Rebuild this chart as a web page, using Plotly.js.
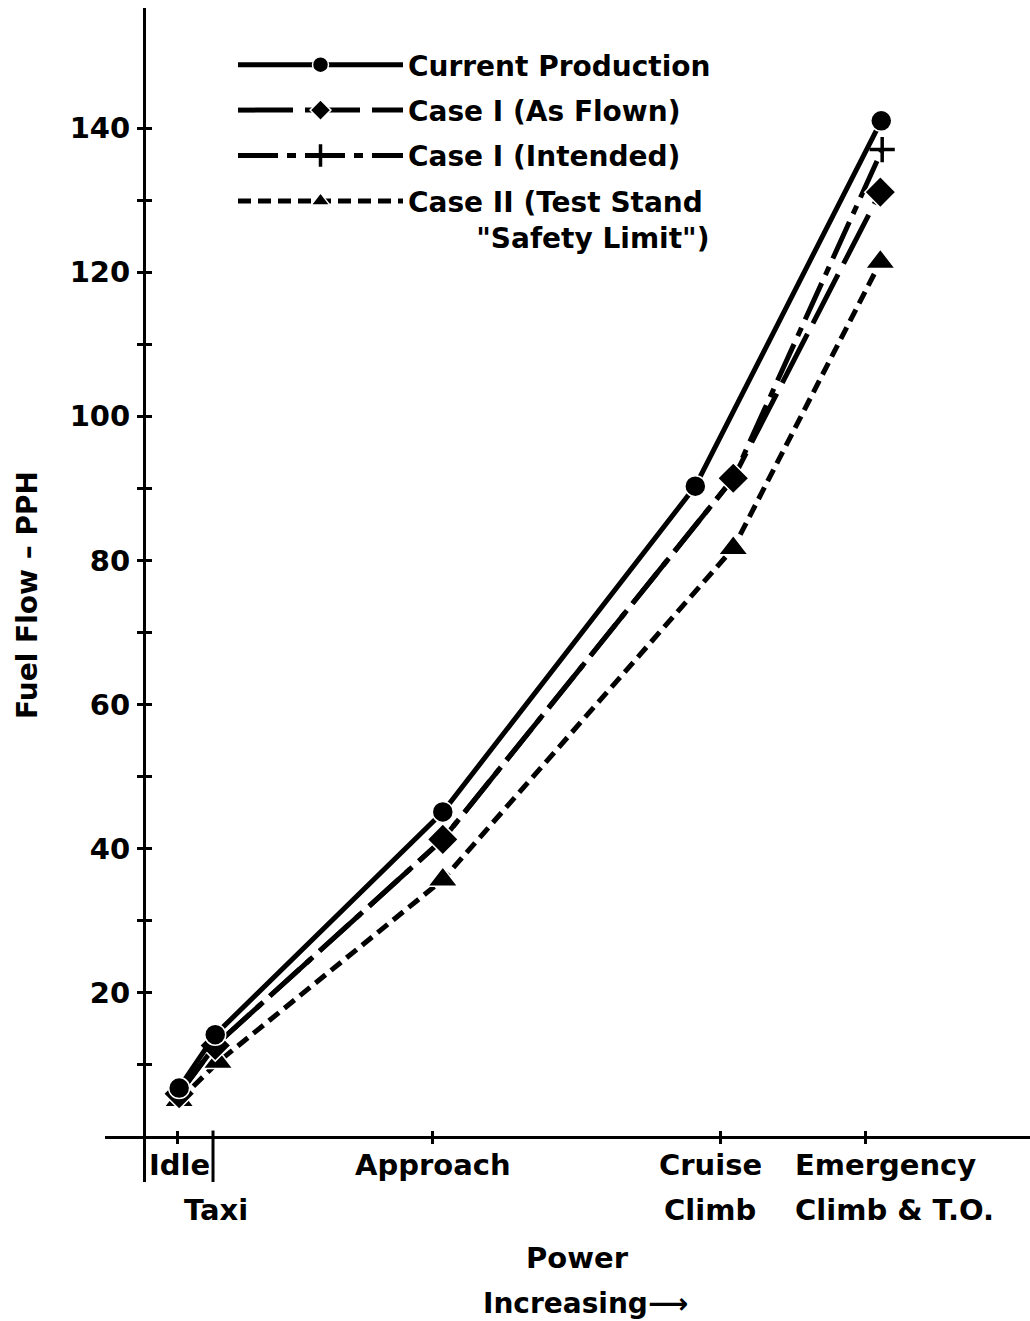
<!DOCTYPE html>
<html><head><meta charset="utf-8">
<script src="https://cdn.plot.ly/plotly-3.0.1.min.js"></script>
<style>body{margin:0;background:#fff}</style>
</head><body><div id="chart" style="width:1030px;height:1321px"></div>
<script>
// Power settings (x positions are arbitrary "power increasing" units)
const powerTicks = [3.57, 7.46, 31.24, 62.27, 77.95];   // Idle, Taxi, Approach, Cruise Climb, Emergency
const labelLine1 = ['Idle', '', 'Approach', 'Cruise', 'Emergency'];
const labelLine2 = ['', 'Taxi', '', 'Climb', 'Climb & T.O.'];

// Fuel flow (PPH)
const currentX = [3.8, 7.7, 32.3, 59.6, 79.7];
const currentY = [6.8, 14.2, 45.1, 90.3, 141.0];
const asFlownX = [3.8, 7.7, 32.3, 63.7, 79.6];
const asFlownY = [6.0, 12.7, 41.3, 91.4, 131.1];
const intendedX = [3.8, 7.7, 32.3, 63.7, 79.8];
const intendedY = [6.0, 12.7, 41.3, 91.4, 137.0];
const case2X = [3.8, 8.0, 32.3, 63.7, 79.6];
const case2Y = [5.1, 10.4, 35.7, 81.7, 121.4];

const yTickVals = [10, 20, 30, 40, 50, 60, 70, 80, 90, 100, 110, 120, 130, 140];
const yTickText = ['', '20', '', '40', '', '60', '', '80', '', '100', '', '120', '', '140'];

const FONT = '"DejaVu Sans", Verdana, sans-serif';
const K = '#000';
const f = (s) => ({family: FONT, size: s, color: K, weight: 700});
const IND = '\u00A0'.repeat(7);

function mk(name, x, y, dash, sym, size, rank) {
  return {
    type: 'scatter', mode: 'lines+markers', name: name, x: x, y: y,
    legendgroup: 'g' + rank, legendrank: rank,
    line: {color: K, width: 5, dash: dash},
    marker: {symbol: sym, size: size, color: K,
             line: {color: sym === 'cross-thin' ? K : '#fff', width: sym === 'cross-thin' ? 3.5 : 1.5}},
    cliponaxis: false
  };
}

const traces = [
  mk('Case II (Test Stand<br>' + IND + '"Safety Limit")', case2X, case2Y, '13px,7px', 'triangle-up', 26, 4),
  mk('Case I (Intended)', intendedX, intendedY, '40px,9px,9px,9px', 'cross-thin', 18, 3),
  mk('Case I (As Flown)', asFlownX, asFlownY, '55px,12px', 'diamond', 24, 2),
  mk('Current Production', currentX, currentY, 'solid', 'circle', 21, 1)
];

// label placement (x offsets relative to tick, alignment)
const xOff = [0.22, 0.32, 0, -1.08, -7.8];
const xAnc = ['center', 'center', 'center', 'center', 'left'];
const pyLine1 = 1 - (1165 - 8) / 1174;
const pyLine2 = 1 - (1210 - 8) / 1174;
const annotations = [];
powerTicks.forEach((t, i) => {
  [[labelLine1[i], pyLine1], [labelLine2[i], pyLine2]].forEach(([txt, py]) => {
    if (!txt) return;
    annotations.push({
      x: t + xOff[i], xref: 'x', y: py, yref: 'paper', text: txt, showarrow: false,
      xanchor: xAnc[i], yanchor: 'middle', font: f(29)
    });
  });
});
annotations.push({x: (577 - 105) / 925, xref: 'paper', y: 1 - (1258 - 8) / 1174, yref: 'paper',
  text: 'Power', showarrow: false, yanchor: 'middle', font: f(29)});
annotations.push({x: (585 - 105) / 925, xref: 'paper', y: 1 - (1303 - 8) / 1174, yref: 'paper',
  text: 'Increasing\u27F6', showarrow: false, yanchor: 'middle', font: f(28)});

const layout = {
  width: 1030, height: 1321,
  margin: {l: 105, r: 0, t: 8, b: 139},
  paper_bgcolor: '#fff', plot_bgcolor: '#fff',
  showlegend: true,
  legend: {
    x: (233 - 105) / 925, y: 1 - (40 - 8) / 1174, xanchor: 'left', yanchor: 'top',
    traceorder: 'grouped', itemwidth: 165, valign: 'top',
    bgcolor: 'rgba(0,0,0,0)', tracegroupgap: 6,
    font: f(28)
  },
  xaxis: {
    range: [-4.216, 95.78], anchor: 'free', position: (1182 - 1130) / 1174,
    showgrid: false, showline: false,
    zeroline: true, zerolinecolor: K, zerolinewidth: 3,
    tickvals: [powerTicks[0], powerTicks[2], powerTicks[3], powerTicks[4]],
    ticktext: ['', '', '', ''],
    ticks: 'outside', ticklen: 13, tickwidth: 3, tickcolor: K, fixedrange: true
  },
  yaxis: {
    range: [-6.24, 156.65], anchor: 'free', position: (152 - 105) / 925,
    showgrid: false, showline: false,
    zeroline: true, zerolinecolor: K, zerolinewidth: 3,
    tickvals: yTickVals, ticktext: yTickText,
    ticks: 'outside', ticklen: 15, tickwidth: 3, tickcolor: K,
    ticklabelstandoff: 1,
    tickfont: f(29),
    title: {text: 'Fuel Flow \u2013 PPH', standoff: 22, font: f(28)},
    fixedrange: true
  },
  shapes: [
    {type: 'line', xref: 'x', yref: 'y', x0: powerTicks[1], x1: powerTicks[1], y0: 0.9, y1: -6.24,
     line: {color: K, width: 3}}
  ],
  annotations: annotations
};

Plotly.newPlot('chart', traces, layout, {displayModeBar: false, staticPlot: true});
</script>
</body></html>
